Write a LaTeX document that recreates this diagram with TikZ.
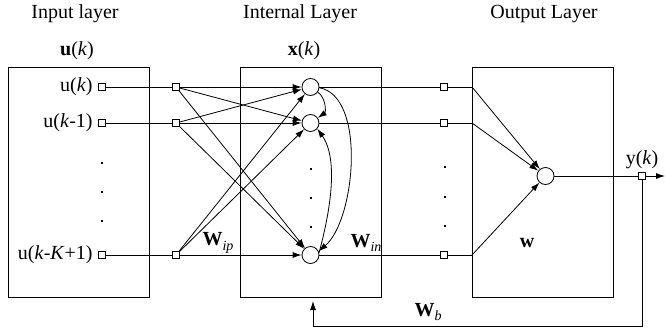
\documentclass[tikz,border=0pt]{standalone}
\usepackage{fontspec}
\setmainfont{Liberation Serif}
\usetikzlibrary{arrows.meta,positioning}

\newcommand{\Wlab}[1]{\textbf{W}\raisebox{-0.45ex}{\fontsize{14}{14}\selectfont\textit{#1}}}

\begin{document}
\begin{tikzpicture}[x=1pt,y=-1pt,font=\fontsize{20}{22}\selectfont,>={Latex[length=9pt,width=6pt]},line width=0.8pt,
  lay/.style={draw,line width=1pt,minimum width=141pt,minimum height=230pt,inner sep=0pt},
  sq/.style={draw,fill=white,minimum size=6.5pt,inner sep=0pt},
  nr/.style={circle,draw,fill=white,minimum size=17pt,inner sep=0pt},
  dt/.style={fill,minimum size=2.5pt,inner sep=0pt}]
\useasboundingbox (0,0) rectangle (665,335);
% layers
\node[lay](ib) at (78.5,182){};
\node[lay](hb) at (311,182){};
\node[lay](ob) at (542.5,182){};
\node(t1) at (75,14){Input layer};
\node(t2) at (300,14){Internal Layer};
\node(t3) at (544,14){Output Layer};
\node(ul) at (77,51){\textbf{u}(\textit{k})};
\node(xl) at (304,51){\textbf{x}(\textit{k})};
% units
\foreach \r/\y in {1/87,2/123,3/255}{
  \node[sq](i\r) at (102,\y){};
  \node[sq](m\r) at (176,\y){};
  \node[nr](n\r) at (310.5,\y){};
  \node[sq](o\r) at (444,\y){};
  \coordinate(e\r) at (472,\y);
}
\node[left=2pt of i1]{u(\textit{k})};
\node[left=2pt of i2]{u(\textit{k}-1)};
\node[left=2pt of i3]{u(\textit{k}-\textit{K}+1)};
\foreach \y in {163,192,221} \node[dt] at (102,\y){};
\foreach \y in {169,198,227} \node[dt] at (311,\y){};
\foreach \y in {167,197,226} \node[dt] at (445,\y){};
\node[nr](y) at (545.5,176){};
\node[sq](ys) at (642,176){};
\node[above=0pt of ys](yl){y(\textit{k})};
\coordinate(yo) at (665,176);
\coordinate(c1) at (642,326);
\coordinate(fb) at (313,301);
% connections
\foreach \a in {1,2,3}{
  \draw(i\a)--(m\a);
  \foreach \b in {1,2,3} \draw[->](m\a)--(n\b);
  \draw(n\a)--(o\a)--(e\a);
  \draw[->](e\a)--(y);
}
\draw[->](n1.-35) to[bend left=55] (n2.35);
\draw[->](n1.-5) to[out=-10,in=40,looseness=0.75] (n3.25);
\draw[->](n3.15) to[out=75,in=-55,looseness=0.8] (n2.-40);
\draw[->](y)--(ys)--(yo);
\draw[->](ys)--(c1)-|(fb);
% weights
\node(wip) at (218,243){\Wlab{ip}};
\node(win) at (366,243){\Wlab{in}};
\node(wo) at (527,243){\textbf{w}};
\node(wb) at (428,312){\Wlab{b}};
\end{tikzpicture}
\end{document}
